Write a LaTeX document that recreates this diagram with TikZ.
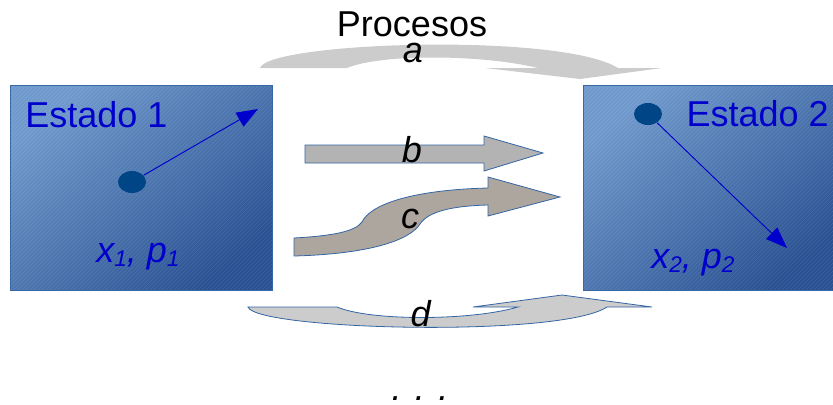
\documentclass[tikz,border=0pt]{standalone}
\usepackage{fontspec}
\setmainfont{Liberation Sans}
\usepackage{tikz}
\usetikzlibrary{arrows.meta,shapes.geometric,patterns}
\definecolor{celeste}{HTML}{6F99CC}
\definecolor{azuloscuro}{HTML}{2A5192}
\definecolor{borde}{HTML}{3465A4}
\definecolor{azultexto}{HTML}{0000CC}
\definecolor{punto}{HTML}{004586}
\definecolor{grisclaro}{HTML}{CCCCCC}
\definecolor{grismedio}{HTML}{B3B3B3}
\definecolor{grisc}{HTML}{ADA69F}
\tikzstyle{estado}=[draw=borde,line width=0.6pt,top color=celeste,bottom color=azuloscuro,shading angle=40,
  postaction={opacity=0.1,pattern=north east lines,pattern color=white}]
\tikzstyle{particula}=[ellipse,fill=punto,minimum width=21pt,minimum height=16.5pt,inner sep=0pt]
\tikzstyle{momento}=[draw=azultexto,line width=0.7pt,-{Triangle[length=16pt,width=12pt]}]
\tikzstyle{rotulo}=[inner sep=0pt,font=\fontsize{27}{32}\selectfont]
\tikzstyle{flecha}=[draw=borde,line width=0.6pt]
\newcommand{\sub}[1]{\raisebox{-0.12em}{\fontsize{17}{20}\selectfont #1}}

\begin{document}
\begin{tikzpicture}[x=0.75pt,y=-0.75pt]
    \useasboundingbox (0,0) rectangle (833,404);
    % the two states
    \path[estado] (10,85) rectangle (272,290);
    \path[estado] (583,85) rectangle (840,290);
    \node[rotulo,anchor=base west,text=azultexto] (est1) at (25,127) {Estado 1};
    \node[rotulo,anchor=base east,text=azultexto] (est2) at (829,126) {Estado 2};
    \node[rotulo,anchor=base west,text=azultexto] (xp1) at (96,262) {\textit{x\sub{1}, p\sub{1}}};
    \node[rotulo,anchor=base west,text=azultexto] (xp2) at (651,268) {\textit{x\sub{2}, p\sub{2}}};

    % particles and their momenta
    \node[particula] (p1) at (132,182) {};
    \node[particula] (p2) at (648,114) {};
    \coordinate (m1) at (258,109);
    \coordinate (m2) at (787,248);
    \draw[momento] (p1) -- (m1);
    \draw[momento] (p2) -- (m2);

    % processes between the states
    \fill[grisclaro] (260,68) .. controls (268,42) and (560,32) .. (618,68) -- (662,68) -- (580,79)
        -- (485,68) -- (538,68) .. controls (480,54) and (380,54) .. (347,68) -- cycle;
    \path[flecha,fill=grismedio] (305,145) -- (484,145) -- (484,136) -- (543,153) -- (484,171)
        -- (484,163) -- (305,163) -- cycle;
    \path[flecha,fill=grisc] (294,238) .. controls (330,236) and (355,232) .. (362,222)
        .. controls (370,205) and (410,190) .. (488,188) -- (488,177) -- (560,197) -- (488,216)
        -- (488,205) .. controls (450,206) and (428,212) .. (420,224)
        .. controls (410,240) and (370,254) .. (294,256) -- cycle;
    \path[flecha,fill=grisclaro] (248,307) .. controls (256,330) and (560,338) .. (607,307) -- (652,307)
        -- (562,295) -- (473,307) -- (518,307) .. controls (470,321) and (370,321) .. (337,307) -- cycle;

    % labels
    \node[rotulo,anchor=base] (procesos) at (412,36) {Procesos};
    \foreach \pos/\name/\letra in {{(413,62)/a/a}, {(412,162)/b/b}, {(410,228)/c/c}, {(421,326)/d/d}}
        \node[rotulo,anchor=base] (\name) at \pos {\textit{\letra}};
    \node[rotulo,anchor=base] (otros) at (420,400) {\textit{. . .}};
\end{tikzpicture}
\end{document}
